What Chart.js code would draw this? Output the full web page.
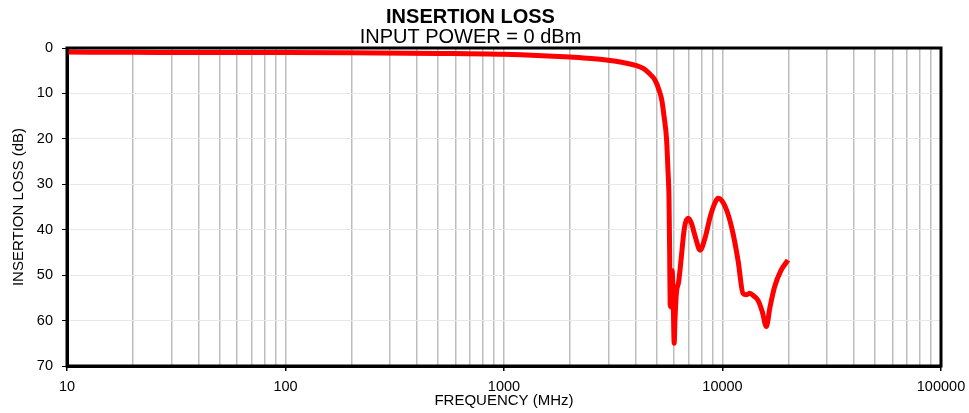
<!DOCTYPE html>
<html>
<head>
<meta charset="utf-8">
<script src="https://cdn.jsdelivr.net/npm/chart.js@4/dist/chart.umd.min.js"></script>
<style>
  html, body { margin: 0; padding: 0; background: #fff; }
  #wrap { width: 969px; height: 413px; }
</style>
</head>
<body>
<div id="wrap"><canvas id="chart"></canvas></div>
<script>
// frequency (MHz) and insertion loss (dB)
var freqMHz = [10, 20, 50, 100, 200, 500, 1000, 1500, 2000, 2500, 3000, 3500, 4000, 4340, 4600, 4900,
    5100, 5270, 5400, 5550, 5630, 5690, 5730, 5760, 5820, 5880, 5950, 6010, 6060, 6150, 6300, 6450,
    6700, 6960, 7200, 7500, 7900, 8300, 8800, 9250, 9540, 9900, 10500, 11170, 11800, 12410, 12900,
    13320, 13900, 14520, 15200, 15870, 16500, 17330, 18500, 19930];
var lossDB = [0.9, 0.95, 1.0, 1.0, 1.05, 1.2, 1.4, 1.7, 2.0, 2.3, 2.7, 3.2, 3.8, 4.5, 5.5, 7.0,
    9.0, 11.4, 15.0, 20.3, 27.0, 33.0, 45.0, 56.5, 57.0, 49.0, 56.0, 65.0, 60.0, 54.0, 51.5, 47.0,
    39.5, 37.5, 38.5, 41.5, 44.5, 42.0, 37.0, 34.0, 33.1, 33.5, 36.0, 40.8, 47.0, 54.0, 54.3,
    54.0, 54.6, 55.5, 58.0, 61.3, 57.0, 52.5, 49.0, 46.7];

var xTicks = [];
for (var p = 10; p <= 10000; p *= 10) {
    for (var m = 1; m < 10; m++) xTicks.push(m * p);
}
xTicks.push(100000);

var isDecade = function (v) {
    var l = Math.log10(v);
    return Math.abs(l - Math.round(l)) < 1e-9;
};

var frameBox = {
    id: 'frameBox',
    afterDraw: function (chart) {
        var a = chart.chartArea, ctx = chart.ctx;
        ctx.save();
        ctx.strokeStyle = '#000';
        ctx.lineWidth = 3;
        ctx.strokeRect(a.left, a.top, a.right - a.left, a.bottom - a.top);
        ctx.restore();
    }
};

var points = freqMHz.map(function (f, i) { return { x: f, y: lossDB[i] }; });

Chart.defaults.font.family = '"Liberation Sans", Arial, sans-serif';
Chart.defaults.color = '#000';

new Chart(document.getElementById('chart'), {
    type: 'scatter',
    data: {
        datasets: [{
            data: points,
            showLine: true,
            borderColor: '#ff0000',
            borderWidth: 5,
            pointRadius: 0,
            cubicInterpolationMode: 'monotone',
            clip: false
        }]
    },
    options: {
        responsive: true,
        maintainAspectRatio: false,
        animation: false,
        layout: { padding: { left: 0, right: 28, top: 0, bottom: 0 } },
        plugins: {
            legend: { display: false },
            tooltip: { enabled: false },
            title: {
                display: true,
                text: 'INSERTION LOSS',
                font: { size: 20, weight: 'bold', lineHeight: 1.0 },
                padding: { top: 7, bottom: 0 }
            },
            subtitle: {
                display: true,
                text: 'INPUT POWER = 0 dBm',
                font: { size: 20, lineHeight: 1.0 },
                padding: { top: 0, bottom: 1 }
            }
        },
        scales: {
            x: {
                type: 'logarithmic',
                min: 10,
                max: 100000,
                afterBuildTicks: function (scale) {
                    scale.ticks = xTicks.map(function (v) { return { value: v }; });
                },
                afterFit: function (scale) {
                    scale.height = 47;
                    scale.paddingLeft = 0;
                    scale.paddingRight = 0;
                },
                ticks: {
                    autoSkip: false,
                    maxRotation: 0,
                    font: { size: 14.5 },
                    padding: 7,
                    callback: function (v) { return isDecade(v) ? String(v) : ''; }
                },
                grid: {
                    color: '#bdbdbd',
                    lineWidth: 1.5,
                    tickLength: 5,
                    tickColor: function (c) { return c.tick && isDecade(c.tick.value) ? '#000' : 'rgba(0,0,0,0)'; }
                },
                border: { color: '#000', width: 3 },
                title: {
                    display: true,
                    text: 'FREQUENCY (MHz)',
                    font: { size: 15 },
                    padding: { top: 0, bottom: 3 }
                }
            },
            y: {
                reverse: true,
                min: 0,
                max: 70,
                afterFit: function (scale) { scale.width = 67; },
                ticks: { stepSize: 10, font: { size: 14.5 }, padding: 9 },
                grid: { color: '#e8e8e8', lineWidth: 1, tickLength: 5, tickColor: '#000' },
                border: { color: '#000', width: 3 },
                title: {
                    display: true,
                    text: 'INSERTION LOSS (dB)',
                    font: { size: 15 },
                    padding: { top: 10, bottom: 0 }
                }
            }
        }
    },
    plugins: [frameBox]
});
</script>
</body>
</html>
